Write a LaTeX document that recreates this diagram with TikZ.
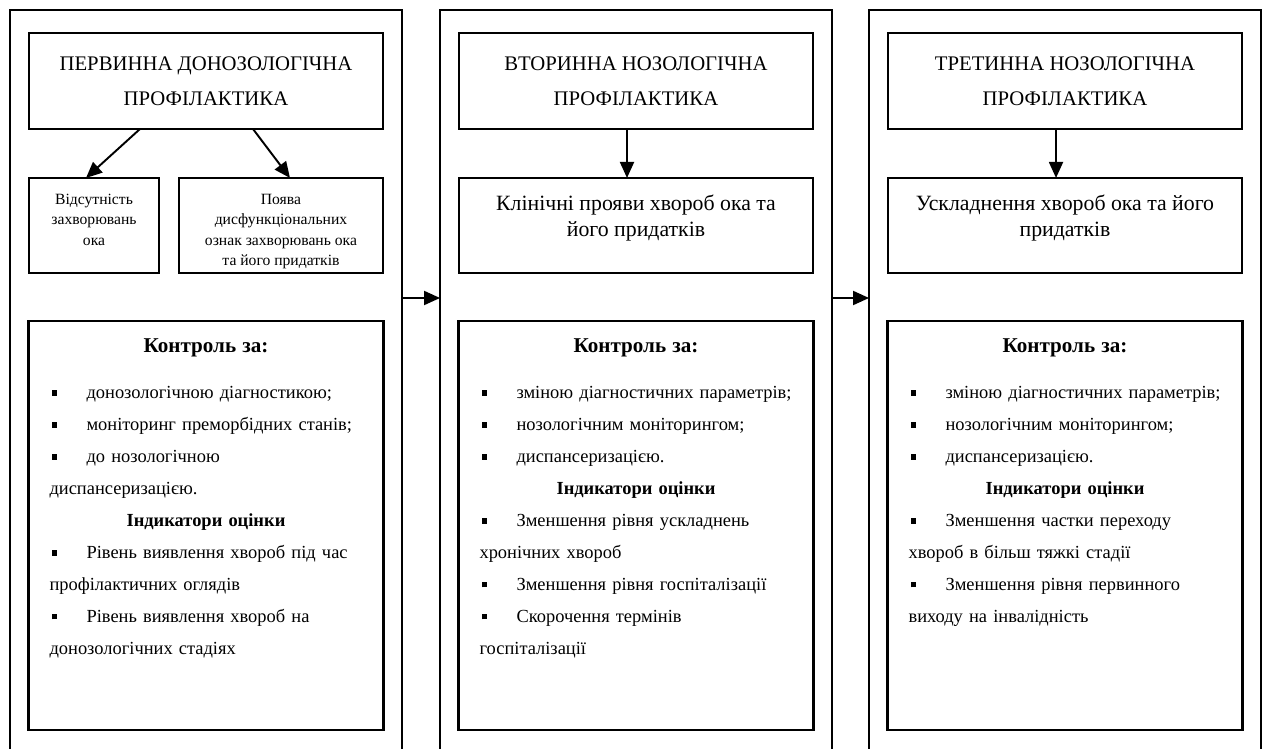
\documentclass[tikz,border=0pt]{standalone}
\usepackage{fontspec}
\setmainfont{Liberation Serif}
\usetikzlibrary{arrows.meta,positioning}

\newcommand{\blt}{\makebox[0.74cm][l]{\hspace{0.04cm}\rule[1.5pt]{3pt}{3pt}}}
\newcommand{\hd}[1]{\makebox[6.26cm][c]{\bfseries #1}}

\begin{document}
\begin{tikzpicture}[x=0.02cm,y=0.02cm,
  every node/.style={inner sep=0pt,outer sep=0pt},
  column/.style={draw,line width=1pt,minimum width=7.84cm,minimum height=15.2cm,anchor=north},
  titlebox/.style={draw,line width=1.3pt,minimum width=7.08cm,minimum height=1.92cm,align=center,
    font=\fontsize{11.8}{20}\selectfont},
  midbox/.style={draw,line width=1.3pt,font=\fontsize{12.4}{14.8}\selectfont},
  smallbox/.style={draw,line width=1.3pt,font=\fontsize{8.9}{11.4}\selectfont},
  ctrlbox/.style={draw,line width=1.4pt,minimum width=7.1cm,minimum height=8.18cm},
  ctrltext/.style={text width=7cm,align=left,anchor=north west,font=\fontsize{10.5}{18.2}\selectfont},
  conn/.style={line width=1.1pt,-{Triangle[length=0.32cm,width=0.28cm]}}]
\useasboundingbox (0,0) rectangle (1266,-749);
\clip (0,0) rectangle (1266,-749);
% columns
\node[column] (colA) at (206,-10) {};
\node[column] (colB) at (636,-10) {};
\node[column] (colC) at (1065,-10) {};
\coordinate (lvl) at (0,-298);
\draw[conn] (colA.east |- lvl) -- (colB.west |- lvl);
\draw[conn] (colB.east |- lvl) -- (colC.west |- lvl);

% first column
\node[titlebox,below=0.46cm of colA.north] (titleA) {ПЕРВИННА ДОНОЗОЛОГІЧНА\\ПРОФІЛАКТИКА};
\node[smallbox,below right=0.98cm and 0cm of titleA.south west] (boxA1)
  {\parbox[c][1.9cm][t]{2.6cm}{\centering\rule{0pt}{0.54cm}Відсутність\\захворювань\\ока}};
\node[smallbox,below left=0.98cm and 0cm of titleA.south east] (boxA2)
  {\parbox[c][1.9cm][t]{4.08cm}{\centering\rule{0pt}{0.54cm}Поява\\дисфункціональних\\ознак захворювань ока\\та його придатків}};
\draw[conn] ([xshift=2.22cm]titleA.south west) -- ([xshift=-0.16cm]boxA1.north);
\draw[conn] ([xshift=4.48cm]titleA.south west) -- ([xshift=0.18cm]boxA2.north);
\node[ctrlbox,below=3.84cm of titleA] (ctrlA) {};
\node[ctrltext] (txtA) at ([xshift=0.42cm,yshift=-0.35cm]ctrlA.north west) {%
\hd{\fontsize{12}{18.2}\selectfont Контроль за:}\\[8pt]
\blt донозологічною діагностикою;\\
\blt моніторинг преморбідних станів;\\
\blt до нозологічною\\
диспансеризацією.\\
\hd{Індикатори оцінки}\\
\blt Рівень виявлення хвороб під час\\
профілактичних оглядів\\
\blt Рівень виявлення хвороб на\\
донозологічних стадіях};

% second column
\node[titlebox,below=0.46cm of colB.north] (titleB) {ВТОРИННА НОЗОЛОГІЧНА\\ПРОФІЛАКТИКА};
\node[midbox,below=0.98cm of titleB] (midB)
  {\parbox[c][1.9cm][t]{7.08cm}{\centering\rule{0pt}{0.66cm}Клінічні прояви хвороб ока та\\його придатків}};
\draw[conn] ([xshift=-0.18cm]titleB.south) -- ([xshift=-0.18cm]midB.north);
\node[ctrlbox,below=0.96cm of midB] (ctrlB) {};
\node[ctrltext] (txtB) at ([xshift=0.42cm,yshift=-0.35cm]ctrlB.north west) {%
\hd{\fontsize{12}{18.2}\selectfont Контроль за:}\\[8pt]
\blt зміною діагностичних параметрів;\\
\blt нозологічним моніторингом;\\
\blt диспансеризацією.\\
\hd{Індикатори оцінки}\\
\blt Зменшення рівня ускладнень\\
хронічних хвороб\\
\blt Зменшення рівня госпіталізації\\
\blt Скорочення термінів\\
госпіталізації};

% third column
\node[titlebox,below=0.46cm of colC.north] (titleC) {ТРЕТИННА НОЗОЛОГІЧНА\\ПРОФІЛАКТИКА};
\node[midbox,below=0.98cm of titleC] (midC)
  {\parbox[c][1.9cm][t]{7.08cm}{\centering\rule{0pt}{0.66cm}Ускладнення хвороб ока та його\\придатків}};
\draw[conn] ([xshift=-0.18cm]titleC.south) -- ([xshift=-0.18cm]midC.north);
\node[ctrlbox,below=0.96cm of midC] (ctrlC) {};
\node[ctrltext] (txtC) at ([xshift=0.42cm,yshift=-0.35cm]ctrlC.north west) {%
\hd{\fontsize{12}{18.2}\selectfont Контроль за:}\\[8pt]
\blt зміною діагностичних параметрів;\\
\blt нозологічним моніторингом;\\
\blt диспансеризацією.\\
\hd{Індикатори оцінки}\\
\blt Зменшення частки переходу\\
хвороб в більш тяжкі стадії\\
\blt Зменшення рівня первинного\\
виходу на інвалідність};
\end{tikzpicture}
\end{document}
